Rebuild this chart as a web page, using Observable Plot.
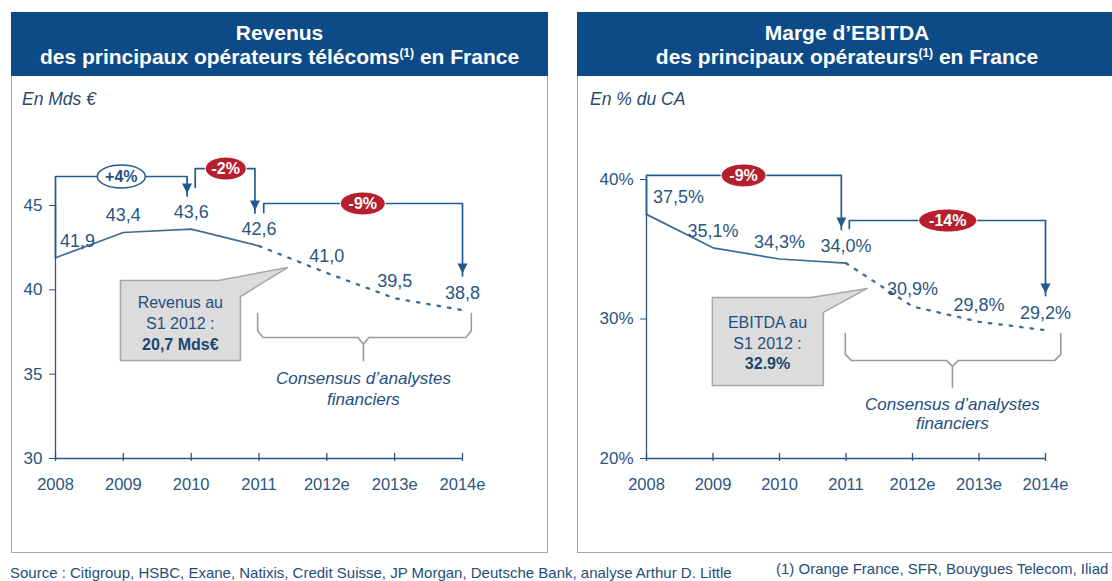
<!DOCTYPE html>
<html><head><meta charset="utf-8">
<script src="https://cdn.jsdelivr.net/npm/d3@7"></script>
<script src="https://cdn.jsdelivr.net/npm/@observablehq/plot@0.6"></script>
<style>
body{margin:0;background:#fff;font-family:"Liberation Sans",Arial,sans-serif;}
#wrap{position:relative;width:1112px;height:581px;overflow:hidden;background:#fff;}
.panel{position:absolute;border:1.5px solid #a8a8a8;box-sizing:border-box;}
.head{position:absolute;height:64px;background:#0d4a88;color:#fff;font-weight:bold;font-size:21px;text-align:center;line-height:24px;padding-top:9px;box-sizing:border-box;white-space:nowrap;}
.head sup{font-size:12px;vertical-align:7px;line-height:0;}
.unit{position:absolute;font-style:italic;font-size:17.5px;color:#2b4a6a;}
.chart{position:absolute;}
.foot{position:absolute;font-size:15px;color:#1f4e79;white-space:nowrap;}
</style></head>
<body>
<div id="wrap">
  <div class="panel" style="left:11px;top:12px;width:537px;height:541px"></div>
  <div class="panel" style="left:577px;top:12px;width:545px;height:541px"></div>
  <div class="head" style="left:11px;top:12px;width:537px">Revenus<br>des principaux opérateurs télécoms<sup>(1)</sup> en France</div>
  <div class="head" style="left:577px;top:12px;width:540px">Marge d’EBITDA<br>des principaux opérateurs<sup>(1)</sup> en France</div>
  <div class="unit" style="left:22px;top:89px">En Mds €</div>
  <div class="unit" style="left:590px;top:89px">En % du CA</div>
  <div class="chart" id="c1" style="left:11px;top:76px"></div>
  <div class="chart" id="c2" style="left:577px;top:76px"></div>
  <div class="foot" style="left:10px;top:564px">Source : Citigroup, HSBC, Exane, Natixis, Credit Suisse, JP Morgan, Deutsche Bank, analyse Arthur D. Little</div>
  <div class="foot" style="left:776px;top:560px">(1) Orange France, SFR, Bouygues Telecom, Iliad</div>
</div>
<script>
// ---- data ----
const years = ["2008","2009","2010","2011","2012e","2013e","2014e"];
const revenus = [41.9, 43.4, 43.6, 42.6, 41.0, 39.5, 38.8];
const revenusLabels = ["41,9","43,4","43,6","42,6","41,0","39,5","38,8"];
const marge = [37.5, 35.1, 34.3, 34.0, 30.9, 29.8, 29.2];
const margeLabels = ["37,5%","35,1%","34,3%","34,0%","30,9%","29,8%","29,2%"];
const revenusTicks = [30, 35, 40, 45];
const margeTicks = [20, 30, 40];
const lastActual = 3; // 2011: solid up to here, dashed after

// growth brackets (x in year index, y in data units)
const revenusBrackets = [
  {from: 0,    to: 1.94, y0: 41.9,  level: 46.72, end: 45.71, label: "+4%", red: false, lx: 0.97, w: 48},
  {from: 2.06, to: 2.94, y0: 46.07, level: 47.19, end: 44.70, label: "-2%", red: true,  lx: 2.51, w: 41},
  {from: 3.07, to: 6,    y0: 44.58, level: 45.12, end: 40.97, label: "-9%", red: true,  lx: 4.53, w: 45}
];
const margeBrackets = [
  {from: 0,    to: 2.93, y0: 37.5,  level: 40.29, end: 36.56, label: "-9%",  red: true, lx: 1.46, w: 45},
  {from: 3.05, to: 6,    y0: 36.49, level: 37.06, end: 31.83, label: "-14%", red: true, lx: 4.53, w: 58}
];
const revenusCallout = {x0: 0.958, x1: 2.727, top: 40.55, bottom: 35.81, b1: 2.40, b2y: 39.60, tipX: 3.42, tipY: 41.32,
  cx: 1.84, lines: ["Revenus au", "S1 2012 :"], linesY: [39.25, 38.0], bold: "20,7 Mds€", boldY: 36.76};
const margeCallout = {x0: 0.99, x1: 2.66, top: 31.54, bottom: 25.23, b1: 2.47, b2y: 30.47, tipX: 3.32, tipY: 32.19,
  cx: 1.82, lines: ["EBITDA au", "S1 2012 :"], linesY: [29.75, 28.24], bold: "32.9%", boldY: 26.81};
const revenusBrace = {x1: 2.98, x2: 6.13, mid: 4.54, top: 38.60, bot: 37.17, tip: 35.81, dx: 0.08, dy: 0.4, textY: 34.18, lh: 1.25};
const margeBrace = {x1: 2.99, x2: 6.23, mid: 4.60, top: 28.96, bot: 27.03, tip: 25.09, dx: 0.09, dy: 0.43, textY: 23.26, lh: 1.15};
const braceText = "Consensus d’analystes\nfinanciers";

// ---- styles ----
const axisColor = "#2a5680";
const lineColor = "#3d6d95";
const arrowColor = "#1f5b8f";
const redFill = "#b51f2e";

function ellipse(w, h) {
  return {draw(ctx) {
    const a = w / 2, b = h / 2, k = 0.5523;
    ctx.moveTo(-a, 0);
    ctx.bezierCurveTo(-a, -b * k, -a * k, -b, 0, -b);
    ctx.bezierCurveTo(a * k, -b, a, -b * k, a, 0);
    ctx.bezierCurveTo(a, b * k, a * k, b, 0, b);
    ctx.bezierCurveTo(-a * k, b, -a, b * k, -a, 0);
    ctx.closePath();
  }};
}
const arrowHead = {draw(ctx) { ctx.moveTo(0, 0); ctx.lineTo(-5, -10); ctx.lineTo(5, -10); ctx.closePath(); }};

function chart({values, labels, ticks, tickFmt, brackets, callout, brace, dom, size, firstDx, ypad}) {
  const idx = d3.range(years.length);
  const pts = idx.map(i => ({x: i, y: values[i]}));
  const marks = [
    Plot.ruleY([dom[0]], {x1: 0, x2: 6, stroke: axisColor, strokeWidth: 1.3}),
    Plot.ruleX([0], {y1: dom[0], y2: ticks[ticks.length - 1], stroke: axisColor, strokeWidth: 1.3}),
    Plot.ruleX(idx, {x: d => d, y1: dom[0] - ypad * 0.6, y2: dom[0] + ypad, stroke: axisColor, strokeWidth: 1.3}),
    Plot.axisY(ticks, {tickSize: 6, tickPadding: 7, fontSize: 17, tickFormat: tickFmt, stroke: axisColor}),
    Plot.axisX(idx, {tickSize: 0, tickPadding: 20, fontSize: 16.5, tickFormat: i => years[i]}),
    Plot.line(pts.slice(0, lastActual + 1), {x: "x", y: "y", stroke: lineColor, strokeWidth: 1.7}),
    Plot.line(pts.slice(lastActual), {x: "x", y: "y", stroke: lineColor, strokeWidth: 2.3, strokeDasharray: "2.5,8"}),
    Plot.text(pts.slice(0, 1), {x: "x", y: "y", text: d => labels[d.x], dy: -17, dx: firstDx, fontSize: 18, fill: axisColor}),
    Plot.text(pts.slice(1), {x: "x", y: "y", text: d => labels[d.x], dy: -17, fontSize: 18, fill: axisColor})
  ];
  // brackets with arrows
  for (const b of brackets) {
    marks.push(Plot.line([[b.from, b.y0], [b.from, b.level], [b.to, b.level], [b.to, b.end - 0.15]],
      {x: d => d[0], y: d => d[1], stroke: arrowColor, strokeWidth: 1.7}));
    marks.push(Plot.dot([b], {x: "to", y: "end", symbol: arrowHead, fill: arrowColor, stroke: null}));
    marks.push(Plot.dot([b], {x: "lx", y: "level", symbol: ellipse(b.w, 23),
      fill: b.red ? redFill : "#fff", stroke: b.red ? "#ffffff" : arrowColor, strokeWidth: b.red ? 1 : 1.5}));
    marks.push(Plot.text([b], {x: "lx", y: "level", text: "label", fontSize: 16, fontWeight: "bold",
      fill: b.red ? "#fff" : "#1f4f7f"}));
  }
  // callout
  const c = callout;
  const shape = [[c.x0, c.top], [c.b1, c.top], [c.tipX, c.tipY], [c.x1, c.b2y], [c.x1, c.bottom], [c.x0, c.bottom], [c.x0, c.top]];
  marks.push(Plot.line(shape, {x: d => d[0], y: d => d[1], fill: "#dcdcdc", stroke: "#a6a6a6", strokeWidth: 1.5, curve: "linear-closed"}));
  marks.push(Plot.text(c.lines.map((t, i) => ({t, y: c.linesY[i]})), {x: () => c.cx, y: "y", text: "t", fontSize: 16, fill: "#1f4f7f"}));
  marks.push(Plot.text([c], {x: "cx", y: "boldY", text: "bold", fontSize: 16, fontWeight: "bold", fill: "#1a4670"}));
  // brace
  const r = brace;
  const bp = [[r.x1, r.top], [r.x1, r.bot + r.dy], [r.x1 + r.dx, r.bot], [r.mid - r.dx, r.bot], [r.mid, r.bot - r.dy], [r.mid, r.tip],
              [r.mid, r.bot - r.dy], [r.mid + r.dx, r.bot], [r.x2 - r.dx, r.bot], [r.x2, r.bot + r.dy], [r.x2, r.top]];
  marks.push(Plot.line(bp, {x: d => d[0], y: d => d[1], stroke: "#9a9a9a", strokeWidth: 1.6}));
  marks.push(Plot.text([r], {x: "mid", y: "textY", text: () => braceText, fontSize: 17, fontStyle: "italic", fill: "#1f4f7f", lineHeight: r.lh}));

  return Plot.plot({
    width: size.w, height: 477,
    marginLeft: size.ml, marginRight: size.mr, marginTop: size.mt, marginBottom: 95,
    x: {domain: [0, 6]},
    y: {domain: dom},
    style: {fontFamily: "'Liberation Sans', Arial, sans-serif", color: axisColor, background: "transparent", overflow: "visible"},
    marks
  });
}

document.getElementById("c1").append(chart({
  values: revenus, labels: revenusLabels, ticks: revenusTicks, tickFmt: d => String(d),
  brackets: revenusBrackets, callout: revenusCallout, brace: revenusBrace,
  dom: [30, 48], size: {w: 537, ml: 44, mr: 86, mt: 78.4}, firstDx: 22, ypad: 0.3
}));
document.getElementById("c2").append(chart({
  values: marge, labels: margeLabels, ticks: margeTicks, tickFmt: d => d + "%",
  brackets: margeBrackets, callout: margeCallout, brace: margeBrace,
  dom: [20, 42], size: {w: 535, ml: 69, mr: 67, mt: 75.1}, firstDx: 32, ypad: 0.36
}));
</script>
</body></html>
